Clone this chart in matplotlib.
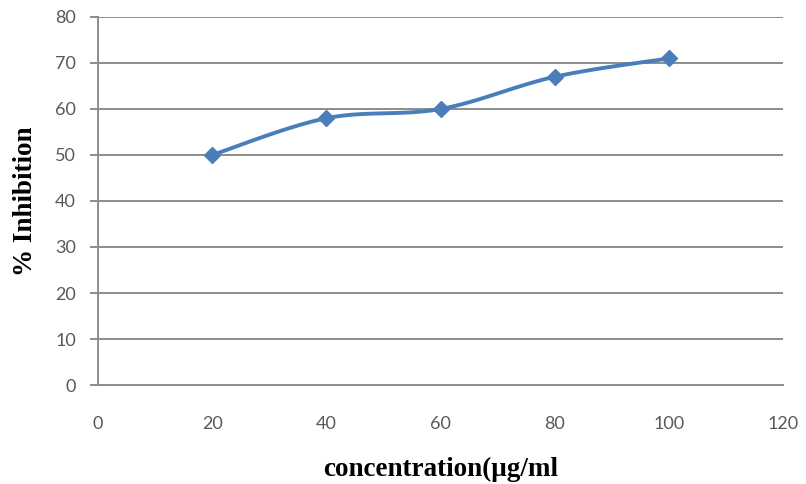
import numpy as np
import matplotlib.pyplot as plt

# concentration (ug/ml) and % inhibition
concentration = [20, 40, 60, 80, 100]
inhibition = [50, 58, 60, 67, 71]


def smooth_curve(x, y, steps=30, tension=0.5):
    """Cardinal spline through the points, like a spreadsheet 'smoothed line'."""
    x = np.asarray(x, float)
    y = np.asarray(y, float)
    px = np.concatenate([[x[0]], x, [x[-1]]])
    py = np.concatenate([[y[0]], y, [y[-1]]])
    xs, ys = [], []
    t = np.linspace(0, 1, steps)
    for i in range(1, len(px) - 2):
        mx0 = (px[i + 1] - px[i - 1]) * tension
        my0 = (py[i + 1] - py[i - 1]) * tension
        mx1 = (px[i + 2] - px[i]) * tension
        my1 = (py[i + 2] - py[i]) * tension
        h00 = 2 * t**3 - 3 * t**2 + 1
        h10 = t**3 - 2 * t**2 + t
        h01 = -2 * t**3 + 3 * t**2
        h11 = t**3 - t**2
        xs.append(h00 * px[i] + h10 * mx0 + h01 * px[i + 1] + h11 * mx1)
        ys.append(h00 * py[i] + h10 * my0 + h01 * py[i + 1] + h11 * my1)
    return np.concatenate(xs), np.concatenate(ys)


fig = plt.figure(figsize=(8.06, 4.84), dpi=100)
ax = fig.add_axes([98 / 806, 1 - 385 / 484, 685 / 806, 368 / 484])

grid_col = '#8c8c8c'
for v in range(10, 81, 10):
    ax.axhline(v, color=grid_col, linewidth=1.4, zorder=1)

sx, sy = smooth_curve(concentration, inhibition)
ax.plot(sx, sy, color='#4a7ebb', linewidth=2.8, zorder=3, solid_capstyle='round')
ax.plot(concentration, inhibition, linestyle='none', marker='D', markersize=8,
        color='#4a7ebb', zorder=4)

ax.set_xlim(0, 120)
ax.set_ylim(0, 80)
ax.set_xticks(range(0, 121, 20))
ax.set_yticks(range(0, 81, 10))

for side in ('top', 'right'):
    ax.spines[side].set_visible(False)
ax.spines['left'].set_color(grid_col)
ax.spines['bottom'].set_color(grid_col)
ax.spines['left'].set_linewidth(1.4)
ax.spines['bottom'].set_linewidth(1.4)

ax.tick_params(axis='y', length=6, width=1.4, color=grid_col, labelcolor='#595959',
               labelsize=13, pad=10)
ax.tick_params(axis='x', length=0, labelcolor='#595959', labelsize=13, pad=22)
for lab in ax.get_xticklabels() + ax.get_yticklabels():
    lab.set_family('Lato')

ax.set_ylabel('% Inhibition', family='Liberation Serif', fontweight='bold',
              fontsize=19.5, labelpad=12)
ax.set_xlabel('concentration(\u03bcg/ml', family='Liberation Serif', fontweight='bold',
              fontsize=19.5, labelpad=18)

fig.savefig('out.png', dpi=100)
